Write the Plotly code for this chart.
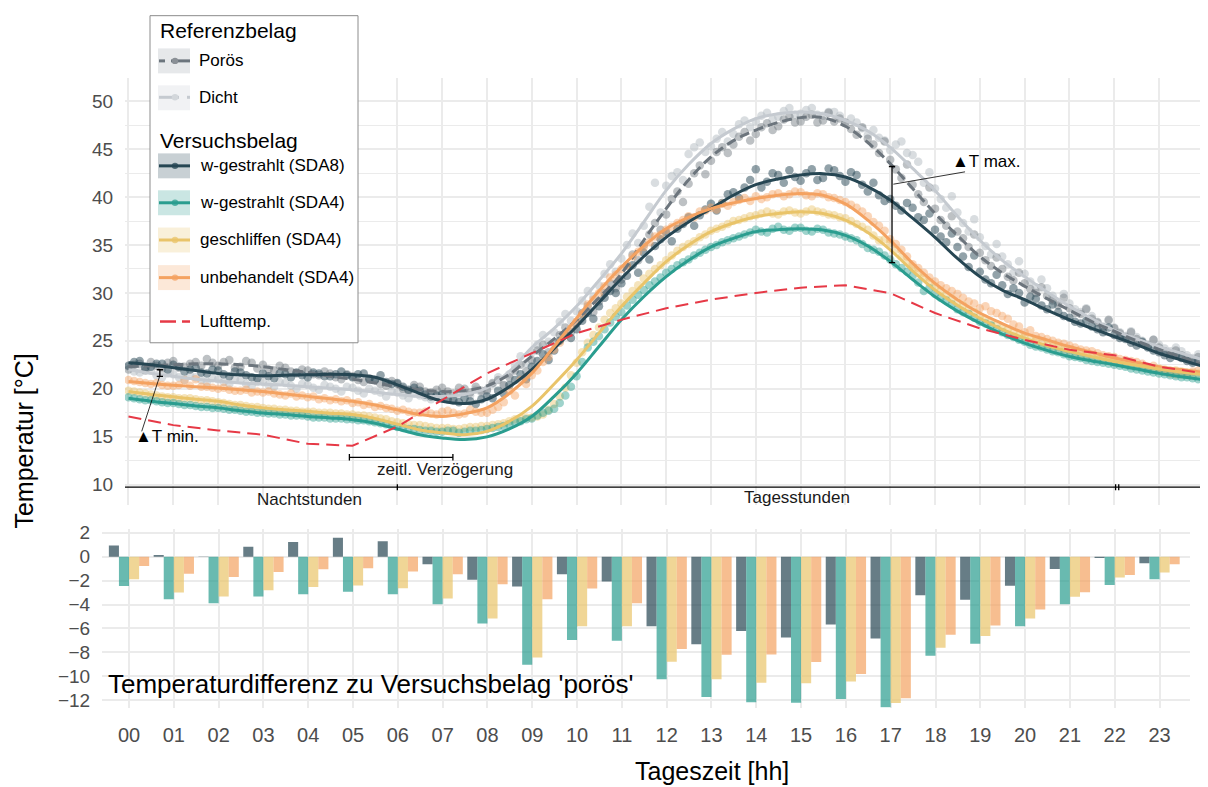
import plotly.graph_objects as go

# page body has an 8px margin: the figure is drawn 8px in from the top-left corner
OFF = 8
W, H = 1208 - OFF, 787 - OFF
FONT = "Liberation Sans, Arial, Helvetica, sans-serif"

# ---------------- data ----------------
# smooth fits at half-hour steps (00:00 ... 24:00)
t_fit = [i / 2 for i in range(49)]
fit_poroes = [22.3, 22.4, 22.5, 22.6, 22.6, 22.5, 22.3, 22.0, 21.7, 21.3, 21.0, 20.6, 20.2, 19.9, 19.7, 19.8,
              20.3, 21.5, 23.4, 25.2, 27.2, 29.5, 32.0, 35.5, 38.8, 41.8, 44.2, 45.9, 47.0, 47.8, 48.3, 48.3,
              47.4, 45.7, 43.5, 40.9, 38.3, 36.0, 33.8, 32.1, 30.7, 29.4, 28.2, 27.0, 26.0, 25.0, 24.1, 23.3, 22.5]
fit_dicht = [22.0, 21.6, 21.3, 21.0, 20.8, 20.6, 20.5, 20.35, 20.2, 20.05, 19.9, 19.65, 19.4, 19.2, 19.2, 19.4,
             20.1, 21.8, 24.3, 26.3, 28.6, 31.3, 34.1, 37.4, 40.7, 43.4, 45.6, 47.1, 48.2, 48.7, 48.9, 48.7,
             48.0, 46.9, 45.2, 43.0, 40.7, 38.0, 35.5, 33.4, 31.7, 30.1, 28.6, 27.3, 26.1, 25.2, 24.4, 23.7, 23.0]
fit_sda8 = [22.7, 22.5, 22.2, 21.9, 21.6, 21.45, 21.35, 21.4, 21.45, 21.5, 21.45, 21.2, 20.4, 19.5, 18.7, 18.45,
            18.9, 20.2, 22.0, 24.2, 26.5, 29.0, 31.5, 33.8, 35.8, 37.4, 38.8, 40.2, 41.3, 41.9, 42.3, 42.45,
            42.1, 41.1, 39.7, 37.8, 35.8, 33.6, 31.7, 30.3, 29.3, 28.2, 27.2, 26.3, 25.45, 24.6, 23.7, 23.0, 22.3]
fit_sda4 = [19.0, 18.7, 18.45, 18.2, 18.0, 17.7, 17.47, 17.3, 17.1, 16.95, 16.77, 16.4, 15.8, 15.2, 14.86, 14.69,
            14.97, 15.8, 17.1, 19.2, 21.6, 24.4, 27.2, 29.6, 31.7, 33.4, 34.8, 35.7, 36.4, 36.6, 36.7, 36.56,
            36.0, 34.9, 33.3, 31.4, 29.6, 28.1, 26.84, 25.7, 24.76, 24.0, 23.36, 22.9, 22.5, 22.05, 21.6, 21.25, 20.94]
fit_geschl = [19.7, 19.4, 19.15, 18.9, 18.68, 18.3, 18.0, 17.8, 17.64, 17.45, 17.3, 16.9, 16.3, 15.7, 15.4, 15.2,
              15.55, 16.6, 18.16, 20.5, 23.0, 25.8, 28.57, 31.0, 33.26, 35.0, 36.4, 37.3, 37.95, 38.3, 38.47, 38.3,
              37.6, 36.3, 34.5, 32.3, 30.3, 28.7, 27.36, 26.2, 25.28, 24.5, 23.9, 23.35, 22.85, 22.45, 22.05, 21.75, 21.46]
fit_unbeh = [20.76, 20.55, 20.35, 20.2, 20.07, 19.9, 19.7, 19.45, 19.2, 18.95, 18.68, 18.3, 17.8, 17.3, 17.1, 17.4,
             18.0, 19.5, 21.6, 24.4, 27.36, 30.2, 32.7, 34.9, 36.7, 37.9, 38.8, 39.4, 39.86, 40.2, 40.38, 40.2,
             39.3, 37.6, 35.5, 33.1, 31.0, 29.3, 27.9, 26.8, 25.8, 25.1, 24.4, 23.8, 23.2, 22.75, 22.3, 22.0, 21.7]

# air temperature, hourly
t_hour = list(range(25))
luft = [17.1, 16.2, 15.65, 15.2, 14.25, 14.05, 16.05, 18.85, 21.6, 23.7, 25.8, 27.2, 28.4, 29.3, 30.0, 30.55,
        30.8, 29.97, 27.9, 26.3, 25.1, 24.06, 23.5, 22.3, 21.6]

# measured points, quarter-hour steps (series a: hh:00/15/30/45, series b: hh:07/22/37/52)
t_pts = [i / 4 for i in range(97)]
t_pts_b = [0.125 + i / 4 for i in range(96)]

pts_sda8 = [22.4, 22.9, 22.3, 22.6, 22.5, 21.8, 22.2, 21.6, 21.9, 21.3, 21.7, 21.2, 21.6, 21.1, 21.5, 21.7,
            21.2, 21.6, 21.3, 21.8, 21.2, 21.6, 20.9, 20.7, 20.6, 19.9, 19.8, 19.2, 19.4, 18.8, 19.0, 18.4,
            19.2, 19.8, 20.4, 21.5, 22.3, 23.6, 24.0, 25.6, 26.2, 27.9, 28.6, 30.2, 31.0, 32.9, 34.2, 34.9,
            36.3, 36.7, 37.9, 38.1, 39.3, 39.4, 40.5, 41.0, 42.9, 41.6, 42.3, 42.8, 41.7, 42.9, 42.0, 42.8,
            41.6, 42.3, 40.6, 40.2, 39.8, 38.6, 38.9, 37.6, 36.6, 35.3, 34.8, 32.7, 32.2, 31.0, 30.8, 30.5,
            29.0, 29.4, 28.3, 28.0, 27.4, 26.8, 26.5, 25.9, 25.6, 25.2, 24.5, 24.3, 23.8, 23.2, 23.2, 22.7, 22.5]
pts_sda8_b = [22.8, 22.2, 22.6, 22.0, 22.3, 22.0, 21.7, 22.0, 21.5, 21.8, 21.4, 21.1, 21.3, 21.6, 21.2, 21.4,
              21.7, 21.3, 21.5, 21.4, 21.5, 21.0, 21.4, 20.5, 20.2, 20.1, 19.4, 19.3, 18.9, 18.6, 18.7, 18.9,
              19.0, 19.5, 20.9, 21.0, 22.9, 23.0, 25.0, 25.3, 27.1, 27.3, 29.5, 30.0, 31.8, 32.1, 33.5, 35.6,
              35.4, 37.2, 37.0, 38.7, 38.6, 40.3, 39.9, 41.8, 41.0, 42.5, 41.5, 42.1, 42.5, 41.8, 43.0, 42.2,
              42.6, 41.3, 41.5, 39.6, 39.1, 39.4, 37.9, 38.3, 35.9, 36.2, 33.8, 33.9, 31.4, 31.9, 29.9, 30.0,
              29.6, 28.7, 28.8, 27.6, 27.0, 27.1, 26.2, 26.4, 25.3, 24.8, 24.9, 24.0, 23.5, 23.5, 22.9, 22.9]
pts_poroes = [22.0, 22.6, 22.8, 22.1, 22.9, 22.3, 22.8, 23.1, 22.4, 23.0, 22.3, 22.7, 22.5, 21.9, 22.2, 21.6,
              21.9, 21.4, 21.6, 21.0, 21.3, 20.7, 20.9, 20.3, 20.5, 19.8, 20.2, 19.6, 20.1, 19.5, 20.0, 20.2,
              19.9, 20.9, 21.2, 22.5, 23.0, 24.6, 24.8, 26.4, 26.8, 28.6, 29.1, 31.0, 31.4, 34.0, 35.0, 37.3,
              38.2, 40.6, 41.4, 43.3, 43.8, 45.2, 45.5, 46.8, 46.6, 47.7, 47.4, 48.4, 47.9, 48.6, 48.0, 47.9,
              47.8, 46.5, 46.1, 44.6, 43.9, 42.0, 41.3, 39.5, 38.8, 37.0, 36.4, 34.8, 34.2, 32.8, 32.5, 31.3,
              31.0, 30.0, 29.7, 28.7, 28.4, 27.8, 27.3, 26.4, 26.3, 25.4, 25.2, 24.5, 24.3, 23.6, 23.5, 22.9, 22.7]
pts_poroes_b = [22.5, 21.9, 22.4, 22.7, 22.2, 22.6, 22.4, 22.7, 22.8, 22.2, 22.9, 22.1, 22.0, 22.4, 21.8, 22.0,
                21.5, 21.8, 21.2, 21.5, 20.9, 21.1, 20.5, 20.8, 20.0, 20.4, 19.7, 19.9, 19.7, 20.1, 19.6, 19.8,
                20.6, 20.4, 21.9, 21.8, 24.0, 23.8, 25.6, 25.9, 27.9, 28.0, 30.0, 30.5, 32.8, 33.4, 36.1, 36.6,
                39.8, 39.5, 42.5, 42.4, 44.7, 44.6, 46.3, 45.9, 47.3, 47.0, 48.1, 47.8, 48.4, 47.8, 48.8, 48.2,
                47.1, 47.3, 45.5, 45.8, 42.9, 43.4, 40.3, 41.0, 37.6, 38.0, 35.7, 36.1, 33.4, 33.7, 31.7, 32.1,
                30.4, 30.6, 29.2, 29.5, 27.9, 28.3, 26.9, 27.2, 25.8, 25.9, 24.8, 25.1, 23.9, 24.0, 23.1, 23.3]
pts_dicht = [22.3, 21.7, 21.9, 21.2, 21.5, 20.9, 21.2, 20.7, 21.0, 20.5, 20.9, 20.3, 20.7, 20.2, 20.6, 20.0,
             20.4, 19.9, 20.2, 19.7, 20.1, 19.5, 19.8, 19.2, 19.6, 19.0, 19.3, 18.9, 19.5, 19.0, 19.6, 19.9,
             19.8, 21.2, 21.5, 23.4, 23.8, 25.6, 25.9, 27.8, 28.1, 30.2, 30.8, 33.0, 33.6, 36.2, 37.0, 41.5,
             41.2, 42.6, 44.5, 45.7, 45.3, 46.8, 46.6, 48.0, 47.9, 48.8, 48.4, 49.3, 48.7, 49.3, 48.5, 48.9,
             47.7, 47.8, 46.5, 46.2, 44.9, 45.8, 44.4, 41.5, 40.9, 38.9, 38.4, 36.4, 35.8, 34.0, 33.8, 32.1,
             32.0, 30.6, 30.5, 29.0, 28.9, 28.0, 27.6, 26.5, 26.4, 25.5, 25.4, 24.6, 24.6, 23.9, 23.9, 23.2, 23.2]
pts_dicht_b = [21.8, 22.2, 21.4, 21.6, 21.2, 21.4, 20.9, 21.1, 20.7, 21.0, 20.5, 20.7, 20.4, 20.7, 20.3, 20.5,
               20.1, 20.4, 20.0, 20.2, 19.8, 20.0, 19.6, 19.7, 19.3, 19.5, 19.1, 19.2, 19.2, 19.4, 19.3, 19.6,
               20.5, 20.3, 22.4, 22.6, 24.6, 24.9, 27.0, 27.1, 29.2, 29.6, 32.0, 32.2, 35.0, 35.2, 39.0, 38.4,
               42.2, 41.8, 45.2, 44.7, 46.1, 45.8, 47.6, 47.3, 48.5, 48.1, 49.0, 48.6, 49.1, 48.6, 48.9, 48.5,
               48.2, 47.2, 47.0, 45.9, 45.5, 44.6, 43.7, 42.6, 39.8, 40.1, 37.3, 37.7, 34.9, 35.1, 33.0, 33.3,
               31.2, 31.4, 29.7, 29.9, 28.3, 28.4, 27.0, 27.1, 25.9, 26.0, 25.0, 25.1, 24.2, 24.3, 23.5, 23.6]
pts_sda4 = [19.1, 18.9, 18.8, 18.6, 18.5, 18.3, 18.2, 18.1, 18.0, 17.8, 17.7, 17.6, 17.5, 17.4, 17.3, 17.2,
            17.1, 17.0, 16.9, 16.9, 16.8, 16.7, 16.5, 16.3, 16.0, 15.8, 15.7, 15.6, 15.5, 15.6, 15.5, 15.6,
            15.8, 16.0, 16.3, 16.6, 16.9, 17.5, 17.9, 19.3, 21.3, 24.3, 25.5, 26.9, 28.0, 29.3, 30.3, 31.2,
            32.1, 32.9, 33.5, 34.2, 34.8, 35.3, 35.7, 36.1, 36.6, 36.3, 36.9, 36.5, 36.8, 36.4, 36.6, 36.2,
            35.9, 35.5, 34.7, 34.3, 33.5, 32.6, 31.8, 30.2, 29.9, 29.2, 28.3, 27.8, 27.0, 26.6, 25.9, 25.4,
            24.9, 24.4, 24.1, 23.8, 23.4, 23.2, 22.9, 22.7, 22.5, 22.3, 22.0, 21.8, 21.6, 21.4, 21.2, 21.1, 20.9]
pts_sda4_b = [19.0, 18.8, 18.7, 18.5, 18.4, 18.3, 18.1, 18.0, 17.9, 17.8, 17.6, 17.5, 17.4, 17.3, 17.2, 17.2,
              17.0, 17.0, 16.9, 16.8, 16.7, 16.6, 16.4, 16.1, 15.9, 15.8, 15.6, 15.5, 15.6, 15.4, 15.6, 15.7,
              15.9, 16.1, 16.5, 16.8, 17.2, 17.7, 18.5, 20.2, 22.8, 24.9, 26.2, 27.5, 28.7, 29.8, 30.8, 31.6,
              32.5, 33.2, 33.9, 34.5, 35.0, 35.5, 35.9, 36.3, 36.4, 36.7, 36.6, 36.8, 36.5, 36.7, 36.3, 36.1,
              35.7, 35.1, 34.5, 33.9, 33.0, 32.2, 31.1, 30.5, 29.5, 28.8, 28.0, 27.4, 26.8, 26.2, 25.6, 25.1,
              24.6, 24.3, 23.9, 23.6, 23.3, 23.0, 22.8, 22.6, 22.4, 22.1, 21.9, 21.7, 21.5, 21.3, 21.2, 21.0]
pts_geschl = [19.8, 19.6, 19.4, 19.2, 19.1, 19.0, 18.9, 18.8, 18.6, 18.4, 18.3, 18.1, 18.0, 17.9, 17.8, 17.7,
              17.6, 17.5, 17.5, 17.4, 17.3, 17.2, 17.0, 16.8, 16.5, 16.3, 16.2, 16.0, 15.9, 15.8, 15.9, 16.0,
              16.1, 16.3, 16.6, 16.9, 17.0, 17.3, 18.4, 20.1, 22.7, 24.8, 26.4, 27.9, 28.9, 30.2, 31.5, 32.5,
              33.4, 34.4, 35.1, 35.8, 36.5, 36.9, 37.5, 37.8, 38.1, 38.5, 38.2, 38.6, 38.3, 38.7, 38.4, 38.1,
              37.8, 37.2, 36.6, 35.5, 35.2, 33.8, 32.6, 31.6, 30.6, 29.8, 29.0, 28.3, 27.6, 27.0, 26.4, 25.9,
              25.4, 25.0, 24.6, 24.3, 24.0, 23.6, 23.4, 23.1, 22.9, 22.7, 22.5, 22.2, 22.1, 21.9, 21.8, 21.6, 21.5]
pts_geschl_b = [19.7, 19.5, 19.3, 19.1, 19.0, 19.0, 18.8, 18.7, 18.5, 18.3, 18.2, 18.1, 17.9, 17.8, 17.7, 17.6,
                17.6, 17.5, 17.4, 17.3, 17.2, 17.1, 16.9, 16.6, 16.4, 16.2, 16.1, 15.9, 15.9, 15.8, 16.0, 16.1,
                16.2, 16.4, 16.8, 17.0, 17.1, 17.8, 19.2, 21.4, 23.8, 25.6, 27.2, 28.4, 29.6, 30.8, 32.0, 32.9,
                33.9, 34.8, 35.4, 36.1, 36.7, 37.2, 37.6, 38.0, 38.3, 38.3, 38.5, 38.4, 38.5, 38.5, 38.2, 37.9,
                37.5, 36.9, 36.0, 35.6, 34.5, 33.2, 32.1, 31.1, 30.2, 29.4, 28.7, 28.0, 27.3, 26.7, 26.2, 25.6,
                25.2, 24.8, 24.4, 24.1, 23.8, 23.5, 23.2, 23.0, 22.8, 22.6, 22.3, 22.1, 22.0, 21.9, 21.7, 21.6]
pts_unbeh = [20.9, 20.7, 20.5, 20.4, 20.3, 20.9, 21.0, 20.2, 20.0, 19.9, 19.8, 19.6, 19.6, 19.5, 19.3, 19.2,
             19.1, 18.9, 18.8, 18.7, 18.5, 18.3, 18.1, 18.0, 17.7, 17.6, 17.5, 17.4, 17.6, 17.5, 17.4, 17.6,
             17.5, 18.1, 19.8, 20.9, 21.4, 22.8, 24.1, 25.6, 27.0, 28.8, 30.0, 31.6, 32.5, 33.8, 34.8, 35.9,
             36.6, 37.3, 38.0, 38.5, 38.9, 39.3, 39.5, 39.9, 40.1, 40.0, 40.4, 40.3, 40.5, 40.1, 40.3, 39.9,
             39.5, 38.9, 38.0, 37.0, 35.6, 34.5, 33.0, 32.1, 31.2, 30.5, 29.9, 29.1, 28.4, 28.1, 27.6, 26.7,
             25.9, 25.5, 25.2, 24.8, 24.5, 24.1, 23.9, 23.5, 23.3, 23.0, 22.8, 22.3, 22.0, 21.6, 21.5, 21.8, 21.7]
pts_unbeh_b = [20.8, 20.6, 20.6, 20.3, 20.4, 20.3, 20.2, 20.1, 20.1, 19.8, 19.9, 19.7, 19.7, 19.4, 19.5, 19.3,
               19.2, 19.0, 18.9, 18.8, 18.6, 18.4, 18.2, 17.9, 17.8, 17.5, 17.6, 17.3, 17.7, 17.3, 17.8, 17.5,
               17.8, 18.6, 19.3, 20.5, 21.9, 23.3, 24.8, 26.3, 27.8, 29.3, 30.7, 31.9, 32.9, 34.3, 35.3, 36.1,
               36.9, 37.6, 37.9, 38.6, 38.7, 39.1, 39.7, 39.6, 39.8, 40.3, 40.1, 40.6, 40.2, 40.4, 40.0, 39.7,
               39.2, 38.5, 37.4, 36.5, 35.1, 33.8, 32.6, 31.6, 30.8, 30.2, 29.5, 28.9, 28.6, 27.9, 27.3, 26.5,
               26.1, 25.4, 25.0, 24.7, 24.3, 24.0, 23.7, 23.4, 23.1, 22.9, 22.6, 22.4, 21.8, 21.5, 21.6, 21.9]

# hourly differences to 'porös'
hours = list(range(24))
hour_labels = ["%02d" % h for h in hours]
diff_sda8 = [0.94, 0.14, 0.02, 0.83, 1.22, 1.58, 1.28, -0.64, -1.94, -2.5, -1.47, -2.08, -5.81, -7.33, -6.22,
             -6.75, -5.67, -6.83, -3.22, -3.61, -2.44, -1.03, -0.11, -0.56]
diff_sda4 = [-2.45, -3.56, -3.89, -3.33, -3.14, -2.94, -3.14, -3.97, -5.58, -9.03, -6.97, -7.03, -10.25, -11.72,
             -12.17, -12.2, -11.89, -12.58, -8.28, -7.28, -5.81, -3.97, -2.36, -1.89]
diff_geschl = [-1.89, -3.0, -3.33, -2.81, -2.53, -2.42, -2.64, -3.5, -5.17, -8.42, -5.81, -5.81, -8.78, -10.25,
               -10.53, -10.58, -10.44, -12.22, -7.61, -6.64, -5.17, -3.36, -1.75, -1.33]
diff_unbeh = [-0.78, -1.42, -1.7, -1.28, -1.06, -0.97, -1.25, -1.47, -2.31, -3.56, -2.67, -3.89, -7.72, -8.19,
              -8.17, -8.81, -9.81, -11.83, -6.53, -5.75, -4.42, -2.97, -1.53, -0.64]

# ---------------- styles ----------------
C_SDA8 = "#264653"
C_SDA4 = "#2A9D8F"
C_GES = "#E9C46A"
C_UNB = "#F4A261"
C_LUFT = "#E63946"
C_POR = "#6C757D"
C_DICHT = "#C5CAD0"
C_DICHT_PT = "#B4BBC2"


def rgba(hexc, a):
    hexc = hexc.lstrip("#")
    r, g, b = int(hexc[0:2], 16), int(hexc[2:4], 16), int(hexc[4:6], 16)
    return "rgba(%d,%d,%d,%.2f)" % (r, g, b, a)


fig = go.Figure()

# points
for ya, yb, col, a in [(pts_dicht, pts_dicht_b, C_DICHT_PT, 0.5), (pts_poroes, pts_poroes_b, C_POR, 0.45),
                       (pts_sda8, pts_sda8_b, C_SDA8, 0.5), (pts_unbeh, pts_unbeh_b, C_UNB, 0.45),
                       (pts_geschl, pts_geschl_b, C_GES, 0.45), (pts_sda4, pts_sda4_b, C_SDA4, 0.45)]:
    fig.add_trace(go.Scatter(x=t_pts + t_pts_b, y=ya + yb, mode="markers", xaxis="x", yaxis="y",
                             marker=dict(size=8.5, color=rgba(col, a), line=dict(width=0)),
                             showlegend=False, hoverinfo="skip"))

# smooth lines
for ys, col, dash in [(fit_dicht, C_DICHT, "solid"), (fit_poroes, C_POR, "10px,5px"), (fit_sda8, C_SDA8, "solid"),
                      (fit_unbeh, C_UNB, "solid"), (fit_geschl, C_GES, "solid"), (fit_sda4, C_SDA4, "solid")]:
    fig.add_trace(go.Scatter(x=t_fit, y=ys, mode="lines", xaxis="x", yaxis="y",
                             line=dict(color=col, width=3, dash=dash, shape="spline", smoothing=1.0),
                             showlegend=False, hoverinfo="skip"))

fig.add_trace(go.Scatter(x=t_hour, y=luft, mode="lines", xaxis="x", yaxis="y",
                         line=dict(color=C_LUFT, width=2, dash="13px,7px"),
                         showlegend=False, hoverinfo="skip"))

# bars
for ys, col in [(diff_sda8, C_SDA8), (diff_sda4, C_SDA4), (diff_geschl, C_GES), (diff_unbeh, C_UNB)]:
    fig.add_trace(go.Bar(x=hours, y=ys, xaxis="x2", yaxis="y2", marker=dict(color=rgba(col, 0.7), line=dict(width=0)),
                         showlegend=False, hoverinfo="skip"))


# ---------------- layout geometry (screen pixel based) ----------------
def fx(px):
    return (px - OFF) / W


def fy(py):
    # small vertical calibration of the captured picture
    pyc = (py - 6.6) / 0.9893
    return 1 - (pyc - OFF) / H


GRID = "#EBEBEB"
TICKC = "#4D4D4D"
TXT = "#1A1A1A"

fig.update_layout(
    width=W, height=H, autosize=False,
    margin=dict(l=0, r=0, t=0, b=0),
    paper_bgcolor="white", plot_bgcolor="white",
    barmode="group", bargap=0.1, bargroupgap=0.0,
    font=dict(family=FONT, color=TXT),
    xaxis=dict(domain=[fx(125), fx(1207)], range=[-0.078, 24.07], dtick=1, tick0=0,
               showticklabels=False, showgrid=True, gridcolor=GRID, gridwidth=1.6,
               zeroline=False, showline=False, ticks=""),
    yaxis=dict(domain=[fy(505.2), fy(78)], range=[7.9, 52.4], tickvals=[10, 15, 20, 25, 30, 35, 40, 45, 50],
               tickfont=dict(size=19, color=TICKC, family=FONT), ticks="outside", ticklen=7,
               tickcolor="rgba(0,0,0,0)", showgrid=True, gridcolor=GRID, gridwidth=1.6,
               minor=dict(dtick=2.5, tick0=0, showgrid=True, gridcolor=GRID, gridwidth=1.3, ticks=""),
               zeroline=False, showline=False),
    xaxis2=dict(domain=[fx(102), fx(1190)], range=[-0.603, 23.68], tickvals=hours, ticktext=hour_labels,
                tickfont=dict(size=20, color=TICKC, family=FONT), ticks="outside", ticklen=9,
                tickcolor="rgba(0,0,0,0)", showgrid=True, gridcolor=GRID, gridwidth=1.6,
                zeroline=False, showline=False, anchor="y2"),
    yaxis2=dict(domain=[fy(708.7), fy(530.1)], range=[-12.62, 2.27], tickvals=[-12, -10, -8, -6, -4, -2, 0, 2],
                tickfont=dict(size=19, color=TICKC, family=FONT), ticks="outside", ticklen=7,
                tickcolor="rgba(0,0,0,0)", showgrid=True, gridcolor=GRID, gridwidth=1.6,
                zeroline=False, showline=False, anchor="x2"),
)

shapes = []
ann = []


def dline(x0, y0, x1, y1, color="black", width=1.2, dash="solid"):
    shapes.append(dict(type="line", xref="x", yref="y", x0=x0, y0=y0, x1=x1, y1=y1,
                       line=dict(color=color, width=width, dash=dash), layer="above"))


# day / night bar
shapes.append(dict(type="line", xref="x domain", yref="y", x0=0, x1=1, y0=9.72, y1=9.72,
                   line=dict(color="black", width=1.3), layer="above"))
for xc in [6.0, 22.03, 22.1]:
    dline(xc, 9.4, xc, 10.04, width=1.3)
ann.append(dict(x=4.03, y=8.45, xref="x", yref="y", text="Nachtstunden", showarrow=False,
                font=dict(size=17, color=TXT), xanchor="center", yanchor="middle"))
ann.append(dict(x=14.92, y=8.62, xref="x", yref="y", text="Tagesstunden", showarrow=False,
                font=dict(size=17, color=TXT), xanchor="center", yanchor="middle"))

# zeitl. Verzoegerung
dline(4.93, 12.84, 7.24, 12.84, width=1.3)
dline(4.93, 12.5, 4.93, 13.18, width=1.3)
dline(7.24, 12.5, 7.24, 13.18, width=1.3)
ann.append(dict(x=7.07, y=11.56, xref="x", yref="y", text="zeitl. Verzögerung", showarrow=False,
                font=dict(size=17, color=TXT), xanchor="center", yanchor="middle"))

# T min
dline(0.70, 21.28, 0.70, 21.98, width=1.3)
dline(0.63, 21.98, 0.77, 21.98, width=1.3)
dline(0.63, 21.28, 0.77, 21.28, width=1.3)
dline(0.69, 21.22, 0.295, 15.55, width=0.8)
ann.append(dict(x=0.10, y=15.0, xref="x", yref="y", text="▲T min.", showarrow=False,
                font=dict(size=17, color="black"), xanchor="left", yanchor="middle"))

# T max
dline(17.04, 33.16, 17.04, 43.2, width=1.3)
dline(16.97, 43.2, 17.11, 43.2, width=1.3)
dline(16.97, 33.16, 17.11, 33.16, width=1.3)
dline(17.07, 41.35, 18.67, 42.64, width=0.8)
ann.append(dict(x=18.33, y=43.7, xref="x", yref="y", text="▲T max.", showarrow=False,
                font=dict(size=17, color="black"), xanchor="left", yanchor="middle"))

# bottom panel caption
ann.append(dict(x=-0.513, y=-10.64, xref="x2", yref="y2", text="Temperaturdifferenz zu Versuchsbelag 'porös'",
                showarrow=False, font=dict(size=26, color="black"), xanchor="left", yanchor="middle"))

# axis titles
ann.append(dict(x=fx(24), y=fy(442), xref="paper", yref="paper", text="Temperatur [°C]", textangle=-90,
                showarrow=False, font=dict(size=25, color="black"), xanchor="center", yanchor="middle"))
ann.append(dict(x=fx(712), y=fy(772), xref="paper", yref="paper", text="Tageszeit [hh]",
                showarrow=False, font=dict(size=25, color="black"), xanchor="center", yanchor="middle"))


# ---------------- legend (drawn) ----------------
def prect(x0, y0, x1, y1, fill, line=None):
    shapes.append(dict(type="rect", xref="paper", yref="paper", x0=fx(x0), y0=fy(y1), x1=fx(x1), y1=fy(y0),
                       fillcolor=fill, line=dict(color=line or fill, width=1 if line else 0), layer="above"))


def pline(x0, x1, yc, color, width=3, dash="solid"):
    shapes.append(dict(type="line", xref="paper", yref="paper", x0=fx(x0), x1=fx(x1), y0=fy(yc), y1=fy(yc),
                       line=dict(color=color, width=width, dash=dash), layer="above"))


def pdot(xc, yc, color, r=3.2):
    shapes.append(dict(type="circle", xref="paper", yref="paper", x0=fx(xc - r), x1=fx(xc + r),
                       y0=fy(yc + r), y1=fy(yc - r), fillcolor=color, line=dict(width=0), layer="above"))


def ptext(x, y, text, size):
    ann.append(dict(x=fx(x), y=fy(y), xref="paper", yref="paper", text=text, showarrow=False,
                    font=dict(size=size, color="black"), xanchor="left", yanchor="middle"))


prect(150, 15.2, 358, 343, "white", line="#8C8C8C")
ptext(158, 30, "Referenzbelag", 21)
ptext(158, 140, "Versuchsbelag", 21)

# Poroes
prect(158, 48, 190, 73, "#E6E8EA")
pline(159, 165, 60.5, C_POR)
pline(171, 190, 60.5, C_POR)
pdot(175, 60.5, "#8A9096")
ptext(197, 60.5, "Porös", 17)
# Dicht
prect(158, 85, 190, 110, "#F1F2F4")
pline(159, 179, 97, C_DICHT)
pline(187, 190, 97, C_DICHT)
pdot(175, 97, "#D3D7DB")
ptext(197, 97, "Dicht", 17)

for yc, col, bg, label in [(165.7, C_SDA8, "#C8D0D4", "w-gestrahlt (SDA8)"),
                           (202.7, C_SDA4, "#CAE6E3", "w-gestrahlt (SDA4)"),
                           (240.0, C_GES, "#F9F0DA", "geschliffen (SDA4)"),
                           (277.7, C_UNB, "#FCE8D8", "unbehandelt (SDA4)")]:
    prect(158, yc - 12.5, 190, yc + 12.5, bg)
    pline(159, 190, yc, col)
    pdot(175, yc, rgba(col, 0.75))
    ptext(198, yc, label, 17)

pline(160, 176, 321.7, C_LUFT, width=2.5)
pline(182, 190, 321.7, C_LUFT, width=2.5)
ptext(198, 321.7, "Lufttemp.", 17)

fig.update_layout(shapes=shapes, annotations=ann)

fig.write_html("out.html")
